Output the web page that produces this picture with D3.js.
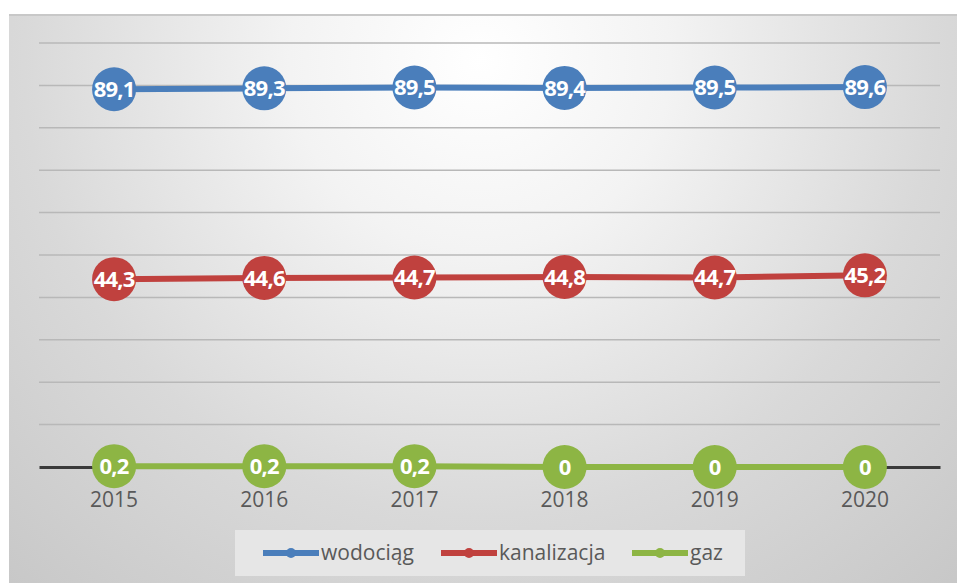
<!DOCTYPE html>
<html><head><meta charset="utf-8">
<script src="https://cdn.jsdelivr.net/npm/d3@7"></script>
<style>body{margin:0;background:#fff}svg{display:block}</style>
</head><body>
<svg id="c" width="957" height="583"></svg>
<script>
const categories = ["2015","2016","2017","2018","2019","2020"];
const wodociag = [89.1,89.3,89.5,89.4,89.5,89.6];
const kanalizacja = [44.3,44.6,44.7,44.8,44.7,45.2];
const gaz = [0.2,0.2,0.2,0,0,0];
const seriesNames = ["wodociąg","kanalizacja","gaz"];
const seriesColors = ["#4a7ebb","#c0413e","#8db544"];
const yTicks = [0,10,20,30,40,50,60,70,80,90,100];

const svg = d3.select("#c");
const defs = svg.append("defs");
const g = defs.append("radialGradient").attr("id","bg").attr("gradientUnits","userSpaceOnUse")
  .attr("cx",480).attr("cy",60).attr("r",760).attr("fx",480).attr("fy",60);
g.append("stop").attr("offset","0%").attr("stop-color","#ffffff");
g.append("stop").attr("offset","25%").attr("stop-color","#f3f3f3");
g.append("stop").attr("offset","60%").attr("stop-color","#d9d9d9");
g.append("stop").attr("offset","100%").attr("stop-color","#c4c4c4");
svg.append("rect").attr("x",9).attr("y",14).attr("width",948).attr("height",569).attr("fill","url(#bg)");
svg.append("rect").attr("x",9).attr("y",14).attr("width",948).attr("height",2).attr("fill","#c8c8c8");

const x = d3.scaleBand().domain(categories).range([39,940]);
const y = d3.scaleLinear().domain([0,100]).range([467,43]);
const xc = d => x(d) + x.bandwidth()/2;

// gridlines
svg.append("g").selectAll("line").data(yTicks.filter(t=>t>0)).join("line")
  .attr("x1",39).attr("x2",940).attr("y1",d=>y(d)).attr("y2",d=>y(d))
  .attr("stroke","#b8b8b8").attr("stroke-width",1.5);

// axis
const xa = svg.append("g").attr("transform",`translate(0,${y(0)})`)
  .call(d3.axisBottom(x).tickSize(0).tickPadding(25));
xa.select(".domain").attr("stroke","#3a3a3a").attr("stroke-width",3);
xa.selectAll("text").attr("font-family","'Open Sans', sans-serif").attr("font-size",21).attr("fill","#595959");

const data = [wodociag,kanalizacja,gaz];
const line = d3.line().x((d,i)=>xc(categories[i])).y(d=>y(d));
data.forEach((vals,si)=>{
  const col = seriesColors[si];
  svg.append("path").datum(vals).attr("d",line).attr("fill","none")
    .attr("stroke",col).attr("stroke-width",6);
  const pts = svg.append("g").selectAll("g").data(vals).join("g")
    .attr("transform",(d,i)=>`translate(${xc(categories[i])},${y(d)})`);
  pts.append("circle").attr("r",22).attr("fill",col);
  pts.append("text").text(d=>String(d).replace(".",","))
    .attr("text-anchor","middle").attr("dy","0.36em")
    .attr("font-family","'Open Sans', sans-serif").attr("font-weight","bold")
    .attr("font-size",22).attr("letter-spacing","-0.8").attr("fill","#fff");
});

// legend
svg.append("rect").attr("x",235).attr("y",530).attr("width",510).attr("height",46).attr("fill","#e6e6e6");
const legX = [263,441,632];
const leg = svg.append("g").selectAll("g").data(seriesNames).join("g")
  .attr("transform",(d,i)=>`translate(${legX[i]},553)`);
leg.append("line").attr("x1",0).attr("x2",56).attr("stroke",(d,i)=>seriesColors[i]).attr("stroke-width",6);
leg.append("circle").attr("cx",28).attr("r",5).attr("fill",(d,i)=>seriesColors[i]);
leg.append("text").text(d=>d).attr("x",58).attr("dy","0.33em")
  .attr("font-family","'Open Sans', sans-serif").attr("font-size",21).attr("fill","#595959");
</script>
</body></html>
